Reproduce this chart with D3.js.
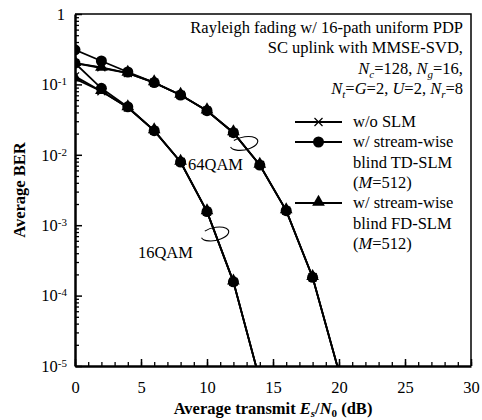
<!DOCTYPE html>
<html>
<head>
<meta charset="utf-8">
<script src="https://cdn.jsdelivr.net/npm/d3@7"></script>
<style>
  body { margin: 0; background: #fff; }
  svg text { font-family: "Liberation Serif", "Times New Roman", Times, "DejaVu Serif", serif; }
</style>
</head>
<body>
<div id="chart"></div>
<script>
// chart values
var snr16 = [0, 2, 4, 6, 8, 10, 12, 14];
var ber16NoSlm = [0.13, 0.08, 0.047, 0.022, 0.0079, 0.00156, 0.000157, 6.3e-6];
var ber16Td = [0.2, 0.088, 0.048, 0.022, 0.0079, 0.00156, 0.000157, 6.3e-6];
var ber16Fd = [0.12, 0.08, 0.047, 0.022, 0.0079, 0.00156, 0.000157, 6.3e-6];

var snr64 = [0, 2, 4, 6, 8, 10, 12, 14, 16, 18, 20];
var ber64NoSlm = [0.2, 0.175, 0.145, 0.106, 0.0707, 0.0423, 0.0206, 0.00716, 0.00161, 0.000182, 8.2e-6];
var ber64Td = [0.31, 0.215, 0.15, 0.106, 0.0707, 0.0423, 0.0206, 0.00716, 0.00161, 0.000182, 8.2e-6];
var ber64Fd = [0.2, 0.171, 0.145, 0.106, 0.0707, 0.0423, 0.0206, 0.00716, 0.00161, 0.000182, 8.2e-6];

var xTicks = [0, 5, 10, 15, 20, 25, 30];
var yTicks = [1, 1e-1, 1e-2, 1e-3, 1e-4, 1e-5];
var yTickExp = ["", "-1", "-2", "-3", "-4", "-5"];

var legendLabels = [
  ["w/o SLM"],
  ["w/ stream-wise", "blind TD-SLM", "(M=512)"],
  ["w/ stream-wise", "blind FD-SLM", "(M=512)"]
];

// svg size and margins
var svgWidth = 482;
var svgHeight = 420;
var margin = { top: 14, right: 11, bottom: 54, left: 75 };
var chartWidth = svgWidth - margin.left - margin.right;
var chartHeight = svgHeight - margin.top - margin.bottom;
var fontSize = 16.5;

var svg = d3.select("#chart")
  .append("svg")
  .attr("width", svgWidth)
  .attr("height", svgHeight);

var chartGroup = svg.append("g")
  .attr("transform", `translate(${margin.left}, ${margin.top})`);

var xScale = d3.scaleLinear().domain([0, 30]).range([0, chartWidth]);
var yScale = d3.scaleLog().domain([1e-5, 1]).range([chartHeight, 0]);

// clip for curves
svg.append("defs").append("clipPath")
  .attr("id", "plotClip")
  .append("rect")
  .attr("width", chartWidth)
  .attr("height", chartHeight);

// top / right frame
chartGroup.append("path")
  .attr("d", `M0,0H${chartWidth}V${chartHeight}`)
  .attr("fill", "none")
  .attr("stroke", "black")
  .attr("stroke-width", 1.5);

// minor x ticks
chartGroup.append("g")
  .attr("transform", `translate(0, ${chartHeight})`)
  .call(d3.axisBottom(xScale).tickValues(d3.range(0, 31)).tickSize(-4).tickFormat(""))
  .call(g => g.select(".domain").remove())
  .selectAll("line").attr("stroke-width", 1.3);

// major x ticks
var xAxis = chartGroup.append("g")
  .attr("transform", `translate(0, ${chartHeight})`)
  .call(d3.axisBottom(xScale).tickValues(xTicks).tickSize(-7).tickSizeOuter(0).tickPadding(15));
xAxis.attr("font-family", null);
xAxis.select(".domain").attr("stroke-width", 2.5);
xAxis.selectAll("line").attr("stroke-width", 1.5);
xAxis.selectAll("text").attr("font-size", fontSize);

// minor y ticks
var yMinor = [];
yTicks.slice(1).forEach(function(d) {
  for (var k = 2; k <= 9; k++) yMinor.push(d * k);
});
chartGroup.append("g")
  .call(d3.axisLeft(yScale).tickValues(yMinor).tickSize(-4).tickFormat(""))
  .call(g => g.select(".domain").remove())
  .selectAll("line").attr("stroke-width", 1.3);

// major y ticks
var yAxis = chartGroup.append("g")
  .call(d3.axisLeft(yScale).tickValues(yTicks).tickSize(-7).tickSizeOuter(0).tickPadding(8).tickFormat(""));
yAxis.attr("font-family", null);
yAxis.select(".domain").attr("stroke-width", 2.5);
yAxis.selectAll("line").attr("stroke-width", 1.5);
yAxis.selectAll(".tick text").each(function(d, i) {
  var t = d3.select(this).attr("font-size", fontSize);
  if (d === 1) {
    t.text("1").attr("x", -10);
  } else {
    t.append("tspan").text("10");
    t.append("tspan").attr("dy", "-0.45em").attr("font-size", 11).text(yTickExp[i]);
  }
});

// curves
var lineGen = d3.line()
  .x(d => xScale(d[0]))
  .y(d => yScale(d[1]));

var series = [
  { snr: snr64, ber: ber64NoSlm, marker: "x" },
  { snr: snr64, ber: ber64Fd, marker: "tri" },
  { snr: snr64, ber: ber64Td, marker: "circle" },
  { snr: snr16, ber: ber16NoSlm, marker: "x" },
  { snr: snr16, ber: ber16Fd, marker: "tri" },
  { snr: snr16, ber: ber16Td, marker: "circle" }
];

var plotArea = chartGroup.append("g").attr("clip-path", "url(#plotClip)");

function drawMarker(g, kind) {
  if (kind === "circle") {
    g.append("circle").attr("r", 5.5).attr("fill", "black");
  } else if (kind === "tri") {
    g.append("path")
      .attr("d", d3.symbol(d3.symbolTriangle, 70)())
      .attr("transform", "translate(0,-1)")
      .attr("fill", "black");
  } else {
    g.append("path")
      .attr("d", "M-4,-4L4,4M-4,4L4,-4")
      .attr("stroke", "black")
      .attr("stroke-width", 1.2)
      .attr("fill", "none");
  }
}

series.forEach(function(s) {
  var pts = s.snr.map((x, i) => [x, s.ber[i]]);
  plotArea.append("path")
    .datum(pts)
    .attr("d", lineGen)
    .attr("fill", "none")
    .attr("stroke", "black")
    .attr("stroke-width", 1.8);
});

series.forEach(function(s) {
  var pts = s.snr.map((x, i) => [x, s.ber[i]]);
  plotArea.selectAll(null)
    .data(pts)
    .enter()
    .append("g")
    .attr("transform", d => `translate(${xScale(d[0])}, ${yScale(d[1])})`)
    .each(function() { drawMarker(d3.select(this), s.marker); });
});

// annotation ellipses
function ellipseAnno(cx, cy, rx, ry, rot) {
  var a0 = -2.3, a1 = 3.0;
  var cs = Math.cos(rot), sn = Math.sin(rot);
  function pt(a) {
    var ex = rx * Math.cos(a), ey = ry * Math.sin(a);
    return [cx + ex * cs - ey * sn, cy + ex * sn + ey * cs];
  }
  var p0 = pt(a0), p1 = pt(a1);
  return `M${p0[0]},${p0[1]}A${rx},${ry} ${rot * 180 / Math.PI} 1 1 ${p1[0]},${p1[1]}`;
}

chartGroup.append("path")
  .attr("d", ellipseAnno(xScale(12.8), yScale(0.0145), 14, 6.5, -0.2))
  .attr("fill", "none")
  .attr("stroke", "black")
  .attr("stroke-width", 1.1);

chartGroup.append("path")
  .attr("d", ellipseAnno(xScale(10.6), yScale(7.5e-4), 14, 6.5, -0.2))
  .attr("fill", "none")
  .attr("stroke", "black")
  .attr("stroke-width", 1.1);

chartGroup.append("text")
  .attr("x", xScale(8.56))
  .attr("y", yScale(0.0061))
  .attr("font-size", fontSize)
  .text("64QAM");

chartGroup.append("text")
  .attr("x", xScale(4.77))
  .attr("y", yScale(3.4e-4))
  .attr("font-size", fontSize)
  .text("16QAM");

// condition text, right aligned
var infoX = chartWidth - 8;
var info = chartGroup.append("g").attr("font-size", fontSize).attr("text-anchor", "end");
info.append("text").attr("x", infoX).attr("y", 19).text("Rayleigh fading w/ 16-path uniform PDP");
info.append("text").attr("x", infoX).attr("y", 39).text("SC uplink with MMSE-SVD,");

function subVar(t, name, sub, rest) {
  t.append("tspan").attr("font-style", "italic").text(name);
  t.append("tspan").attr("font-style", "italic").attr("font-size", 11).attr("dy", 4).text(sub);
  t.append("tspan").attr("dy", -4).text(rest);
}

var l3 = info.append("text").attr("x", infoX).attr("y", 60);
subVar(l3, "N", "c", "=128, ");
subVar(l3, "N", "g", "=16,");

var l4 = info.append("text").attr("x", infoX).attr("y", 80);
subVar(l4, "N", "t", "=");
l4.append("tspan").attr("font-style", "italic").text("G");
l4.append("tspan").text("=2, ");
l4.append("tspan").attr("font-style", "italic").text("U");
l4.append("tspan").text("=2, ");
subVar(l4, "N", "r", "=8");

// legend
var legendRows = [108, 128, 189];
var legendMarkers = ["x", "circle", "tri"];
var legend = chartGroup.append("g");
legendLabels.forEach(function(lines, i) {
  var row = legend.append("g").attr("transform", `translate(220, ${legendRows[i]})`);
  row.append("line")
    .attr("x1", 0).attr("x2", 47)
    .attr("stroke", "black")
    .attr("stroke-width", 1.8);
  drawMarker(row.append("g").attr("transform", "translate(23.5,0)"), legendMarkers[i]);
  lines.forEach(function(txt, j) {
    var t = row.append("text")
      .attr("x", 58)
      .attr("y", 5 + j * 20.5)
      .attr("font-size", fontSize);
    if (txt.indexOf("M=") >= 0) {
      t.append("tspan").text("(");
      t.append("tspan").attr("font-style", "italic").text("M");
      t.append("tspan").text("=512)");
    } else {
      t.text(txt);
    }
  });
});

// axis titles
svg.append("text")
  .attr("transform", `translate(${margin.left + chartWidth / 2}, 414)`)
  .attr("text-anchor", "middle")
  .attr("font-size", fontSize)
  .attr("font-weight", "bold")
  .call(function(t) {
    t.append("tspan").text("Average transmit ");
    t.append("tspan").attr("font-style", "italic").text("E");
    t.append("tspan").attr("font-style", "italic").attr("font-size", 11).attr("dy", 3).text("s");
    t.append("tspan").attr("dy", -3).text("/");
    t.append("tspan").attr("font-style", "italic").text("N");
    t.append("tspan").attr("font-size", 11).attr("dy", 3).text("0");
    t.append("tspan").attr("dy", -3).text(" (dB)");
  });

svg.append("text")
  .attr("transform", `translate(25, ${margin.top + chartHeight / 2}) rotate(-90)`)
  .attr("text-anchor", "middle")
  .attr("font-size", fontSize)
  .attr("font-weight", "bold")
  .text("Average BER");
</script>
</body>
</html>
